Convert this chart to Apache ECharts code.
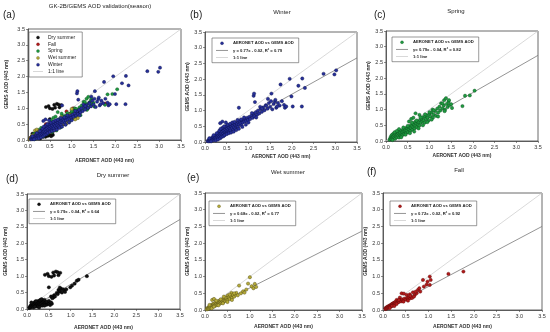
<!DOCTYPE html>
<html>
<head>
<meta charset="utf-8">
<script src="https://cdn.jsdelivr.net/npm/echarts@6/dist/echarts.min.js"></script>
<style>
html,body{margin:0;padding:0;background:#fff;}
#chart{width:550px;height:332px;}
</style>
</head>
<body>
<div id="chart"></div>
<script>
// ---------------- DATA ----------------
const panelLetters = ['(a)', '(b)', '(c)', '(d)', '(e)', '(f)'];
const panelTitles = ['GK-2B/GEMS AOD validation(season)', 'Winter', 'Spring', 'Dry summer', 'Wet summer', 'Fall'];
const seasonNames = ['Dry summer', 'Fall', 'Spring', 'Wet summer', 'Winter'];
const scatterName = 'AERONET AOD vs GEMS AOD';
const oneToOneName = '1:1 line';
const xAxisName = 'AERONET AOD (443 nm)';
const yAxisName = 'GEMS AOD (443 nm)';
const axisMin = 0, axisMax = 3.5, axisStep = 0.5;
const oneToOne = [[0, 0], [3.5, 3.5]];

// regression (panels b..f)
const regSlope = [0.77, 0.79, 0.79, 0.68, 0.72];
const regIntercept = [-0.02, -0.04, -0.04, -0.02, -0.02];
const regLabel = ['y = 0.77x - 0.02, R\u00b2 = 0.79', 'y= 0.79x - 0.04, R\u00b2 = 0.82', 'y = 0.79x - 0.04, R\u00b2 = 0.64', 'y = 0.68x - 0.02, R\u00b2 = 0.77', 'y = 0.72x - 0.02, R\u00b2 = 0.92'];
const regXStart = 0.05, regXEnd = 3.5;

const winter = [
[0.06,0.03],[0.08,0.06],[0.09,0.02],[0.11,0.07],[0.12,0.04],[0.13,0.11],[0.15,0.06],[0.16,0.12],[0.17,0.09],[0.18,0.16],[0.19,0.05],[0.21,0.13],[0.22,0.19],[0.23,0.1],[0.24,0.15],[0.26,0.21],[0.26,0.12],[0.28,0.18],[0.29,0.26],[0.3,0.14],[0.31,0.21],[0.32,0.31],[0.33,0.17],[0.34,0.25],[0.35,0.36],[0.36,0.2],[0.37,0.28],[0.38,0.4],[0.39,0.23],[0.4,0.33],[0.41,0.43],[0.42,0.26],[0.43,0.37],[0.44,0.21],[0.45,0.45],[0.46,0.31],[0.47,0.4],[0.48,0.27],[0.49,0.49],[0.5,0.36],[0.51,0.43],[0.52,0.3],[0.53,0.51],[0.54,0.39],[0.55,0.46],[0.56,0.34],[0.57,0.54],[0.58,0.42],[0.59,0.37],[0.6,0.49],[0.61,0.56],[0.62,0.44],[0.64,0.52],[0.65,0.39],[0.66,0.58],[0.67,0.47],[0.69,0.55],[0.7,0.43],[0.71,0.61],[0.73,0.51],[0.74,0.58],[0.76,0.48],[0.77,0.63],[0.79,0.56],[0.8,0.66],[0.82,0.6],[0.84,0.53],[0.85,0.68],[0.87,0.62],[0.89,0.71],[0.91,0.65],[0.93,0.74],[0.95,0.67],[0.97,0.77],[0.99,0.7],[1.02,0.8],[1.04,0.73],[1.07,0.84],[1.1,0.77],[1.12,0.9],[1.14,0.82],[1.17,0.95],[1.2,0.87],[1.22,1.0],[1.25,0.91],[1.28,1.05],[1.31,0.96],[1.34,1.1],[1.37,1.01],[1.4,1.17],[1.44,1.06],[1.47,1.24],[1.5,1.12],[1.52,1.3],[1.55,1.04],[1.58,1.21],[1.61,1.29],[1.64,1.09],[1.68,1.24],[1.72,1.16],[1.77,1.3],[1.84,1.09],
[0.1,0.12],[0.14,0.02],[0.2,0.22],[0.25,0.05],[0.27,0.28],[0.3,0.08],[0.33,0.36],[0.35,0.12],[0.38,0.16],[0.4,0.45],[0.42,0.18],[0.45,0.22],[0.47,0.5],[0.5,0.25],[0.52,0.55],[0.55,0.28],[0.58,0.58],[0.6,0.3],[0.63,0.62],[0.66,0.33],[0.68,0.64],[0.72,0.38],[0.75,0.7],[0.78,0.42],[0.83,0.72],[0.86,0.48],[0.9,0.78],[0.94,0.55],[0.36,0.42],[0.44,0.5],[0.35,0.6],[1.0,0.62],[1.08,0.92],[1.18,0.78],[1.27,1.12],
[0.4,0.65],[0.48,0.62],[0.78,1.09],[1.12,1.47],[1.13,1.54],[1.15,1.27],[1.45,1.37],[1.53,1.54],[1.62,1.34],[1.74,1.83],[1.41,1.15],[1.31,1.07],[1.66,1.13],[1.82,1.18],[1.87,1.13],[1.95,2.01],[1.99,1.45],[2.02,1.13],[2.15,1.79],[2.23,1.13],[2.24,2.02],[2.3,1.72],[2.73,2.17],[2.98,2.15],[3.02,2.28]
];
const spring = [
[0.08,0.04],[0.1,0.09],[0.11,0.13],[0.12,0.06],[0.13,0.18],[0.14,0.1],[0.15,0.21],[0.16,0.08],[0.17,0.14],[0.18,0.24],[0.19,0.11],[0.2,0.18],[0.21,0.07],[0.22,0.22],[0.23,0.15],[0.24,0.27],[0.25,0.12],[0.26,0.2],[0.27,0.29],[0.28,0.16],[0.29,0.24],[0.3,0.11],[0.31,0.3],[0.32,0.2],[0.33,0.26],[0.34,0.16],[0.35,0.33],[0.36,0.23],[0.37,0.28],[0.38,0.19],[0.39,0.36],[0.4,0.27],[0.41,0.31],[0.42,0.22],[0.43,0.39],[0.44,0.3],[0.45,0.35],[0.46,0.25],[0.47,0.42],[0.48,0.33],[0.5,0.39],[0.51,0.28],[0.52,0.45],[0.53,0.37],[0.55,0.43],[0.56,0.32],[0.57,0.5],[0.58,0.41],[0.6,0.47],[0.61,0.36],[0.62,0.55],[0.63,0.44],[0.65,0.52],[0.66,0.4],[0.67,0.6],[0.68,0.48],[0.7,0.56],[0.71,0.44],[0.72,0.63],[0.74,0.53],[0.75,0.6],[0.77,0.49],[0.78,0.67],[0.8,0.58],[0.82,0.7],[0.84,0.62],[0.85,0.76],[0.87,0.66],[0.89,0.58],[0.9,0.78],[0.92,0.7],[0.94,0.82],[0.96,0.74],[0.98,0.65],[1.0,0.86],[1.02,0.78],[1.05,0.9],[1.07,1.0],[1.08,0.74],[1.1,0.84],[1.13,0.95],[1.15,0.8],[1.18,1.03],[1.2,0.9],[1.23,1.09],[1.25,0.97],[1.27,1.2],[1.3,1.04],[1.33,1.13],[1.34,1.3],[1.36,1.0],[1.38,1.36],[1.4,1.18],[1.42,1.08],[1.44,1.25],[1.46,1.14],[1.5,1.17],[1.52,1.05],[1.76,1.11],[1.82,1.44],[1.93,1.45],[2.04,1.6],[0.68,0.88],[0.77,0.83],
[0.15,0.03],[0.2,0.28],[0.25,0.32],[0.3,0.38],[0.35,0.12],[0.4,0.43],[0.45,0.2],[0.5,0.48],[0.55,0.25],[0.6,0.58],[0.65,0.3],[0.7,0.65],[0.75,0.4],[0.8,0.75],[0.85,0.5],[0.9,0.85],[0.95,0.6],[1.0,0.92],[1.05,0.68],[1.1,0.98],[1.2,0.78],[1.3,1.2],[1.35,0.95],[1.45,1.3],[0.58,0.7],[0.63,0.74],[0.53,0.62]
];
const drySummer = [
[0.05,0.03],[0.07,0.08],[0.08,0.05],[0.09,0.12],[0.1,0.06],[0.11,0.1],[0.12,0.15],[0.13,0.08],[0.14,0.12],[0.15,0.18],[0.16,0.1],[0.17,0.14],[0.18,0.21],[0.19,0.11],[0.2,0.16],[0.21,0.09],[0.22,0.19],[0.23,0.13],[0.24,0.24],[0.25,0.15],[0.26,0.1],[0.27,0.2],[0.28,0.14],[0.29,0.26],[0.3,0.17],[0.31,0.12],[0.32,0.22],[0.33,0.16],[0.35,0.28],[0.36,0.19],[0.38,0.14],[0.39,0.23],[0.41,0.17],[0.43,0.2],[0.45,0.13],[0.48,0.18],[0.5,0.15],[0.53,0.12],[0.57,0.16],
[0.1,0.2],[0.15,0.05],[0.2,0.24],[0.25,0.07],[0.3,0.27],[0.35,0.1],[0.4,0.28],[0.45,0.22],[0.5,0.25],[0.55,0.2],[0.4,0.1],[0.33,0.3],[0.18,0.07],[0.28,0.05],
[0.41,1.04],[0.47,1.07],[0.5,1.0],[0.56,0.98],[0.6,1.11],[0.62,1.02],[0.66,1.14],[0.7,1.12],[0.72,1.03],[0.76,1.1],[0.5,0.66],
[0.6,0.35],[0.62,0.42],[0.64,0.38],[0.68,0.49],[0.7,0.45],[0.72,0.58],[0.74,0.52],[0.76,0.55],[0.78,0.62],[0.8,0.5],[0.83,0.6],[0.85,0.56],[0.87,0.52],[0.9,0.6],[0.75,0.65],[0.55,0.38],[0.58,0.33],
[0.99,0.66],[1.03,0.71],[1.09,0.77],[1.14,0.86],[1.18,0.89],[1.37,1.0]
];
const wetSummer = [
[0.04,0.02],[0.05,0.05],[0.06,0.03],[0.07,0.07],[0.08,0.04],[0.09,0.09],[0.1,0.06],[0.11,0.11],[0.12,0.07],[0.13,0.13],[0.14,0.09],[0.15,0.15],[0.16,0.1],[0.17,0.13],[0.18,0.18],[0.19,0.11],[0.2,0.16],[0.21,0.2],[0.22,0.13],[0.23,0.17],[0.24,0.22],[0.25,0.14],[0.26,0.19],[0.27,0.24],[0.28,0.16],[0.29,0.21],[0.3,0.26],[0.31,0.18],[0.32,0.23],[0.33,0.28],[0.34,0.2],[0.35,0.25],[0.36,0.3],[0.37,0.22],[0.38,0.27],[0.4,0.32],[0.41,0.24],[0.42,0.29],[0.44,0.34],[0.45,0.27],[0.47,0.31],[0.48,0.36],[0.5,0.29],[0.51,0.44],[0.53,0.38],[0.55,0.33],[0.57,0.42],[0.59,0.51],[0.6,0.36],[0.62,0.45],[0.65,0.4],[0.68,0.46],[0.7,0.51],[0.73,0.44],[0.76,0.73],[0.8,0.5],[0.85,0.56],[0.88,0.52],[0.92,0.61],[0.96,0.79],[1.0,0.98],[1.04,0.71],[1.08,0.65],[1.11,0.78],[1.14,0.69],[0.16,0.3],[0.2,0.33],
[0.1,0.15],[0.15,0.05],[0.2,0.1],[0.25,0.28],[0.3,0.14],[0.35,0.32],[0.4,0.2],[0.45,0.38],[0.5,0.24],[0.55,0.46],[0.6,0.3],[0.65,0.5],[0.42,0.4]
];
const fall = [
[0.05,0.03],[0.06,0.06],[0.07,0.04],[0.08,0.08],[0.09,0.05],[0.1,0.1],[0.11,0.07],[0.12,0.11],[0.13,0.08],[0.14,0.13],[0.15,0.1],[0.16,0.14],[0.17,0.11],[0.18,0.16],[0.19,0.13],[0.2,0.18],[0.21,0.14],[0.22,0.2],[0.23,0.15],[0.24,0.21],[0.25,0.17],[0.26,0.23],[0.27,0.19],[0.28,0.25],[0.3,0.3],[0.31,0.22],[0.33,0.27],[0.35,0.24],[0.37,0.37],[0.38,0.29],[0.4,0.26],[0.41,0.5],[0.42,0.32],[0.44,0.28],[0.46,0.49],[0.47,0.34],[0.5,0.31],[0.52,0.45],[0.53,0.36],[0.55,0.33],[0.57,0.38],[0.59,0.47],[0.6,0.35],[0.62,0.39],[0.64,0.36],[0.66,0.53],[0.7,0.45],[0.74,0.5],[0.77,0.6],[0.8,0.65],[0.88,0.9],[0.96,0.76],[1.03,0.75],[1.03,1.0],[1.05,0.9],[1.44,1.08],[1.77,1.15],
[0.15,0.06],[0.2,0.12],[0.25,0.12],[0.3,0.18],[0.35,0.3],[0.45,0.25],[0.55,0.28],[0.6,0.42],[0.68,0.4],[0.72,0.55],[0.82,0.55],[0.9,0.7],[0.98,0.85]
];

// ---------------- STYLE / LAYOUT ----------------
const FONT = '"Liberation Sans", Arial, sans-serif';
const seasonData = {'Dry summer': drySummer, 'Fall': fall, 'Spring': spring, 'Wet summer': wetSummer, 'Winter': winter};
const seasonColor = {'Dry summer': ['#111111', '#000000'], 'Fall': ['#b01a1a', '#5a0606'], 'Spring': ['#1f9a40', '#0a4a1c'], 'Wet summer': ['#b5aa3a', '#4a4410'], 'Winter': ['#27309a', '#0a0f45']};
const panelSeason = [null, 'Winter', 'Spring', 'Dry summer', 'Wet summer', 'Fall'];

const grids = [
  {left: 28, top: 29, width: 153, height: 111},
  {left: 205, top: 32, width: 152, height: 110},
  {left: 386, top: 31, width: 152, height: 110},
  {left: 27, top: 194, width: 153, height: 115},
  {left: 205, top: 193, width: 157, height: 117},
  {left: 383, top: 193, width: 159, height: 117}
];
const xNameGap = [18, 12, 12, 16, 14, 14];
const yNameGap = [19, 13, 13, 19, 14, 13];
const titlePos = [[100, 6], [282, 12], [456, 11], [113, 175], [288, 172], [459, 170]];
const letterPos = [[3, 15], [190, 15], [374, 15], [6, 179], [187, 178], [367, 172]];
const legendPos = [[29, 32], [212, 38], [392, 37], [29, 199], [209, 201], [390, 201]];

const option = {
  animation: false,
  backgroundColor: '#ffffff',
  textStyle: {fontFamily: FONT},
  grid: [], xAxis: [], yAxis: [], series: [], legend: [], graphic: []
};

for (let i = 0; i < 6; i++) {
  option.grid.push(Object.assign({show: true, borderColor: '#444', borderWidth: 0.8, backgroundColor: '#fff'}, grids[i]));
  const axisCommon = {
    gridIndex: i, type: 'value', min: axisMin, max: axisMax, interval: axisStep,
    axisLine: {show: true, lineStyle: {color: '#444', width: 0.8}},
    axisTick: {show: true, length: 2, lineStyle: {color: '#444', width: 0.6}},
    axisLabel: {fontSize: 5.5, margin: 3, color: '#333', fontFamily: FONT, formatter: v => v.toFixed(1)},
    splitLine: {show: false},
    nameLocation: 'middle',
    nameTextStyle: {fontSize: 5, fontWeight: 'bold', color: '#333', fontFamily: FONT}
  };
  option.xAxis.push(Object.assign({}, axisCommon, {name: xAxisName, nameGap: xNameGap[i]}));
  option.yAxis.push(Object.assign({}, axisCommon, {name: yAxisName, nameGap: yNameGap[i]}));

  option.graphic.push({type: 'text', x: titlePos[i][0], y: titlePos[i][1], style: {text: panelTitles[i], font: '6px ' + FONT, fill: '#222', align: 'center', verticalAlign: 'middle'}});
  option.graphic.push({type: 'text', x: letterPos[i][0], y: letterPos[i][1], style: {text: panelLetters[i], font: '10px ' + FONT, fill: '#222', verticalAlign: 'middle'}});

  if (i === 0) {
    const legendData = [];
    seasonNames.forEach(s => {
      option.series.push({
        type: 'scatter', name: s, xAxisIndex: 0, yAxisIndex: 0, data: seasonData[s],
        symbol: 'circle', symbolSize: 3.2,
        itemStyle: {color: seasonColor[s][0], borderColor: seasonColor[s][1], borderWidth: 0.4, opacity: 1}
      });
      legendData.push({name: s, icon: 'circle', itemStyle: {color: seasonColor[s][0], borderColor: seasonColor[s][1], borderWidth: 0.3}});
    });
    option.series.push({type: 'line', name: oneToOneName, xAxisIndex: 0, yAxisIndex: 0, data: oneToOne, symbol: 'none', lineStyle: {color: '#cfcfcf', width: 0.8}, z: 1});
    legendData.push({name: oneToOneName, icon: 'path://M0,0 L10,0 L10,0.8 L0,0.8 Z', itemStyle: {color: '#cfcfcf'}});
    option.legend.push({
      left: legendPos[0][0], top: legendPos[0][1], orient: 'vertical',
      itemWidth: 10, itemHeight: 3, itemGap: 1.8,
      padding: [3, 6, 3, 4], borderColor: '#555', borderWidth: 0.6, backgroundColor: '#fff',
      textStyle: {fontSize: 5, color: '#222', fontFamily: FONT, lineHeight: 5},
      data: legendData, selectedMode: false
    });
  } else {
    const s = panelSeason[i];
    const k = i - 1;
    const yStart = regSlope[k] * regXStart + regIntercept[k];
    const yEnd = regSlope[k] * regXEnd + regIntercept[k];
    option.series.push({type: 'line', name: oneToOneName, xAxisIndex: i, yAxisIndex: i, data: oneToOne, symbol: 'none', lineStyle: {color: '#cfcfcf', width: 0.8}, z: 1});
    option.series.push({type: 'line', name: regLabel[k], xAxisIndex: i, yAxisIndex: i, data: [[regXStart, yStart], [regXEnd, yEnd]], symbol: 'none', lineStyle: {color: '#7a7a7a', width: 0.8}, z: 1});
    option.series.push({
      type: 'scatter', name: scatterName, xAxisIndex: i, yAxisIndex: i, data: seasonData[s],
      symbol: 'circle', symbolSize: 3.3,
      itemStyle: {color: seasonColor[s][0], borderColor: seasonColor[s][1], borderWidth: 0.4, opacity: 1}, z: 3
    });
    option.legend.push({
      left: legendPos[i][0], top: legendPos[i][1], orient: 'vertical',
      itemWidth: 12, itemHeight: 3, itemGap: 2.6,
      padding: [3, 5, 3, 4], borderColor: '#555', borderWidth: 0.6, backgroundColor: '#fff',
      textStyle: {fontSize: 4.2, color: '#222', fontFamily: FONT, lineHeight: 4.5, fontWeight: 'bold'},
      selectedMode: false,
      data: [
        {name: scatterName, icon: 'circle', itemStyle: {color: seasonColor[s][0], borderColor: seasonColor[s][1], borderWidth: 0.3}},
        {name: regLabel[k], icon: 'path://M0,0 L12,0 L12,0.8 L0,0.8 Z', itemStyle: {color: '#7a7a7a'}},
        {name: oneToOneName, icon: 'path://M0,0 L12,0 L12,0.8 L0,0.8 Z', itemStyle: {color: '#cfcfcf'}}
      ]
    });
  }
}

const chart = echarts.init(document.getElementById('chart'), null, {renderer: 'canvas'});
chart.setOption(option);
</script>
</body>
</html>
